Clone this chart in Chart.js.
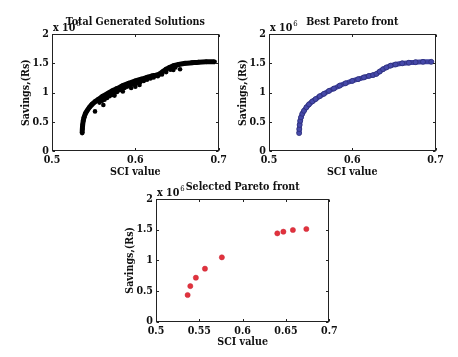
<!DOCTYPE html>
<html><head><meta charset="utf-8">
<script src="https://cdn.jsdelivr.net/npm/chart.js@4/dist/chart.umd.min.js"></script>
<style>
html,body{margin:0;padding:0;background:#fff;width:458px;height:357px;overflow:hidden}
canvas{position:absolute;left:0;top:0}
</style></head><body>
<canvas id="c1" width="458" height="357"></canvas>
<canvas id="c2" width="458" height="357"></canvas>
<canvas id="c3" width="458" height="357"></canvas>
<script>
// ---------- data ----------
const titles = ["Total Generated Solutions", "Best Pareto front", "Selected Pareto front"];
const xAxisTitle = "SCI value";
const yAxisTitle = "Savings,(Rs)";
const yExponent = "6";
const yTicks = [0, 0.5, 1, 1.5, 2];
const xTicksTop = [0.5, 0.6, 0.7];
const xTicksBottom = [0.5, 0.55, 0.6, 0.65, 0.7];

// Pareto curve (SCI value, savings x1e6)
const frontSCI = [0.5362,0.5364,0.5368,0.5375,0.5385,0.540,0.542,0.545,0.548,0.552,0.556,0.561,0.566,0.572,0.578,0.585,0.592,0.600,0.607,0.614,0.620,0.625,0.629,0.633,0.637,0.641,0.646,0.652,0.660,0.668,0.676,0.685,0.695];
const frontSav = [0.31,0.38,0.45,0.52,0.58,0.64,0.69,0.75,0.80,0.85,0.89,0.94,0.98,1.03,1.07,1.12,1.16,1.20,1.23,1.26,1.285,1.30,1.32,1.36,1.40,1.43,1.46,1.48,1.50,1.51,1.52,1.525,1.525];

// dominated solutions below the front (chart 1)
const otherSCI = [0.5516,0.5616,0.557,0.560,0.563,0.566,0.569,0.572,0.575,0.578,0.581,0.584,0.587,0.590,0.594,0.598,0.602,0.606,0.610,0.614,0.618,0.622,0.627,0.632,0.637,0.642,0.648,0.6456,0.6536,0.559,0.565,0.571,0.577,0.583,0.589,0.596,0.603,0.611,0.619,0.628,0.595,0.600,0.605,0.585,0.575];
const otherSav = [0.68,0.79,0.83,0.86,0.88,0.91,0.94,0.96,0.99,1.01,1.04,1.06,1.08,1.10,1.12,1.14,1.16,1.18,1.20,1.22,1.24,1.26,1.28,1.31,1.35,1.39,1.43,1.386,1.40,0.88,0.93,0.99,1.03,1.08,1.12,1.16,1.19,1.22,1.26,1.30,1.08,1.10,1.13,1.02,0.95];

// darker overlapping points on the best front (chart 2)
const darkSCI = [0.545,0.548,0.551,0.554,0.607,0.610,0.613,0.616];
const darkSav = [0.75,0.80,0.84,0.87,1.23,1.245,1.26,1.27];

// selected solutions (chart 3)
const selSCI = [0.5365,0.5396,0.546,0.5565,0.576,0.640,0.647,0.658,0.6735];
const selSav = [0.435,0.58,0.717,0.864,1.049,1.44,1.467,1.495,1.511];

// ---------- helpers ----------
const zip = (xs, ys) => xs.map((x, i) => ({x, y: ys[i]}));
const FONT = "'DejaVu Serif Condensed', 'DejaVu Serif', serif";
const FS = 10.6;
const fmt = v => String(+(+v).toFixed(2));

const framePlugin = {
  id: 'frame',
  afterDraw(chart, args, o) {
    const {ctx, chartArea: a, scales} = chart;
    const xs = scales.x, ys = scales.y;
    ctx.save();
    ctx.strokeStyle = '#222';
    ctx.lineWidth = 1;
    const L = Math.round(a.left) + 0.5, R = Math.round(a.right) - 0.5;
    const T = Math.round(a.top) + 0.5, B = Math.round(a.bottom) - 0.5;
    ctx.strokeRect(L, T, R - L, B - T);
    const tl = 2.5;
    ctx.beginPath();
    o.xt.forEach(v => {
      const p = Math.round(xs.getPixelForValue(v)) + 0.5;
      ctx.moveTo(p, B); ctx.lineTo(p, B - tl);
      ctx.moveTo(p, T); ctx.lineTo(p, T + tl);
    });
    yTicks.forEach(v => {
      const p = Math.round(ys.getPixelForValue(v)) + 0.5;
      ctx.moveTo(L, p); ctx.lineTo(L + tl, p);
      ctx.moveTo(R, p); ctx.lineTo(R - tl, p);
    });
    ctx.stroke();
    ctx.fillStyle = '#111';
    const cx = (a.left + a.right) / 2, cy = (a.top + a.bottom) / 2;
    // exponent
    ctx.font = `bold ${FS}px ${FONT}`;
    ctx.textAlign = 'left'; ctx.textBaseline = 'middle';
    ctx.fillText('x 10', a.left + 1, a.top - 5.5);
    const w = ctx.measureText('x 10').width;
    ctx.font = `${FS * 0.72}px ${FONT}`;
    ctx.fillText(yExponent, a.left + 2 + w, a.top - 10);
    // title
    ctx.font = `bold ${FS}px ${FONT}`;
    ctx.textAlign = 'center';
    ctx.fillText(o.title, cx, a.top - 11.5);
    // x title
    ctx.fillText(xAxisTitle, cx, a.bottom + 21);
    // y title
    ctx.translate(a.left - 26, cy);
    ctx.rotate(-Math.PI / 2);
    ctx.fillText(yAxisTitle, 0, 0);
    ctx.restore();
  }
};

function makeChart(id, area, datasets, xt, title) {
  const yw = 30, xh = 30;
  return new Chart(document.getElementById(id), {
    type: 'scatter',
    data: {datasets},
    plugins: [framePlugin],
    options: {
      responsive: false,
      animation: false,
      events: [],
      layout: {padding: {left: area[0] - yw, top: area[2], right: 458 - area[1], bottom: 357 - area[3] - xh}},
      plugins: {legend: {display: false}, tooltip: {enabled: false}, frame: {xt, title}},
      scales: {
        x: {
          type: 'linear', min: 0.5, max: 0.7,
          afterBuildTicks: s => { s.ticks = xt.map(v => ({value: v})); },
          ticks: {callback: fmt, color: '#111', padding: 3, maxRotation: 0, autoSkip: false, font: {family: FONT, size: FS, weight: 'bold'}},
          grid: {display: false, drawTicks: false},
          border: {display: false},
          afterFit: s => { s.height = xh; s.paddingLeft = 0; s.paddingRight = 0; }
        },
        y: {
          type: 'linear', min: 0, max: 2,
          afterBuildTicks: s => { s.ticks = yTicks.map(v => ({value: v})); },
          ticks: {callback: fmt, color: '#111', padding: 3, autoSkip: false, font: {family: FONT, size: FS, weight: 'bold'}},
          grid: {display: false, drawTicks: false},
          border: {display: false},
          afterFit: s => { s.width = yw; s.paddingTop = 0; s.paddingBottom = 0; }
        }
      }
    }
  });
}

makeChart('c1', [52, 218.7, 34, 151.3], [
  {data: zip(otherSCI, otherSav), pointRadius: 2.3, backgroundColor: '#000', borderColor: '#000', borderWidth: 0},
  {data: zip(frontSCI, frontSav), showLine: true, borderColor: '#000', borderWidth: 5, pointRadius: 2.4, backgroundColor: '#000', pointBorderWidth: 0, tension: 0.3}
], xTicksTop, titles[0]);

makeChart('c2', [269, 435.5, 34, 151.3], [
  {data: zip(frontSCI, frontSav), showLine: true, borderColor: '#3e41a0', borderWidth: 5, pointRadius: 2.5, backgroundColor: '#4649aa', pointBorderColor: '#2c2e78', pointBorderWidth: 0.8, tension: 0.3},
  {data: zip(darkSCI, darkSav), pointRadius: 2.2, backgroundColor: '#16163a', borderWidth: 0}
], xTicksTop, titles[1]);

makeChart('c3', [156, 329.3, 199, 321.7], [
  {data: zip(selSCI, selSav), pointRadius: 2.6, backgroundColor: '#e2323c', borderColor: '#c8283a', borderWidth: 0.5}
], xTicksBottom, titles[2]);
</script>
</body></html>
